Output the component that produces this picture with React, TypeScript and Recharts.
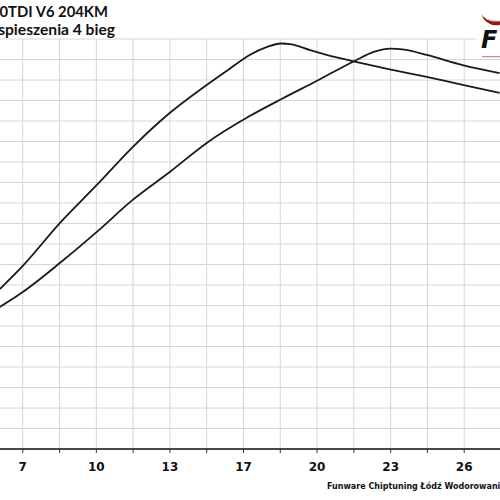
import { LineChart, Line, XAxis, YAxis, CartesianGrid } from 'recharts';

// x ticks (grid lines) and the labels shown under them
const xTicks = [5.4, 7, 8.6, 10.2, 11.8, 13.4, 15, 16.6, 18.2, 19.8, 21.4, 23, 24.6, 26.2, 27.8];
const xTickLabels = ['', '7', '', '10', '', '13', '', '17', '', '20', '', '23', '', '26', ''];
const yTicks = [0, 1, 2, 3, 4, 5, 6, 7, 8, 9, 10, 11, 12, 13, 14, 15, 16, 17, 18, 19, 20];
const yDomain = [0, 20];

// first curve (earlier peak)
const curveAX = [6.0, 7.0, 8.61, 10.22, 11.78, 13.39, 15.0, 16.0, 16.87, 17.6, 18.22, 18.7, 19.5, 20.65, 21.43, 22.96, 24.57, 26.13, 27.74];
const curveAY = [7.8, 8.93, 11.02, 12.88, 14.73, 16.39, 17.76, 18.55, 19.22, 19.6, 19.78, 19.74, 19.46, 19.1, 18.9, 18.52, 18.15, 17.76, 17.37];

// second curve (later peak)
const curveBX = [6.0, 7.0, 8.61, 10.22, 11.78, 13.39, 15.0, 16.87, 18.3, 19.78, 21.43, 22.3, 22.96, 23.6, 24.57, 26.13, 27.74];
const curveBY = [6.93, 7.66, 9.07, 10.59, 12.15, 13.51, 14.93, 16.24, 17.1, 17.95, 18.93, 19.38, 19.53, 19.48, 19.22, 18.73, 18.34];

const seriesA = curveAX.map((x, i) => ({ x, y: curveAY[i] }));
const seriesB = curveBX.map((x, i) => ({ x, y: curveBY[i] }));

const XTick = (props: any) => {
  const { x, y, index } = props;
  const label = xTickLabels[index] ?? '';
  return (
    <text
      x={x}
      y={y + 16}
      textAnchor="middle"
      fontFamily="DejaVu Sans"
      fontWeight="bold"
      fontSize={12}
      fill="#111"
    >
      {label}
    </text>
  );
};

// horizontal grid at every y tick, placed through the y scale
const hGrid = ({ yAxis, offset }: any) => {
  if (yAxis && typeof yAxis.scale === 'function') {
    return yTicks.map((t) => yAxis.scale(t));
  }
  const span = yDomain[1] - yDomain[0];
  return yTicks.map((t) => offset.top + offset.height * (1 - (t - yDomain[0]) / span));
};

const App = () => {
  return (
    <div style={{ position: 'fixed', left: 0, top: 0, width: 500, height: 500, overflow: 'hidden', background: '#fff' }}>
      <div style={{ position: 'absolute', left: -14, top: 0 }}>
        <LineChart
          width={515}
          height={500}
          data={seriesA}
          margin={{ top: 39, right: 0, bottom: 0, left: 0 }}
        >
          <CartesianGrid stroke="#d6d6d6" strokeWidth={1} horizontalCoordinatesGenerator={hGrid} />
          <XAxis
            dataKey="x"
            type="number"
            domain={[5.4, 27.8]}
            ticks={xTicks}
            interval={0}
            height={51}
            axisLine={{ stroke: '#111', strokeWidth: 1.5 }}
            tickLine={{ stroke: '#333' }}
            tickSize={4}
            tick={<XTick />}
            allowDataOverflow
          />
          <YAxis type="number" domain={yDomain} ticks={yTicks} interval={0} hide />
          <Line
            data={seriesA}
            dataKey="y"
            type="monotone"
            stroke="#1a1a1a"
            strokeWidth={1.8}
            dot={false}
            isAnimationActive={false}
          />
          <Line
            data={seriesB}
            dataKey="y"
            type="monotone"
            stroke="#1a1a1a"
            strokeWidth={1.8}
            dot={false}
            isAnimationActive={false}
          />
        </LineChart>
      </div>

      {/* logo */}
      <div style={{ position: 'absolute', left: 476, top: 10, width: 30, height: 46, background: '#fff' }} />
      <svg style={{ position: 'absolute', left: 0, top: 0 }} width={500} height={500}>
        <text x={108} y={17} textAnchor="end" fontFamily="Lato" fontWeight="bold" fontSize={14.8} fill="#111">
          Audi A6 3.0TDI V6 204KM
        </text>
        <text x={115} y={35} textAnchor="end" fontFamily="Lato" fontWeight="bold" fontSize={15.6} fill="#111">
          Wykres przyspieszenia 4 bieg
        </text>
        <path d="M481 14 Q486 22 500 21 L500 25 Q486 27 481 14 Z" fill="#9c1515" />
        <path d="M486 19 Q492 22 500 21" stroke="#c9c9c9" strokeWidth={1} fill="none" />
        <text x={481} y={48} fontFamily="DejaVu Sans" fontWeight="bold" fontStyle="italic" fontSize={24} fill="#111">F</text>
        <rect x={482} y={56} width={18} height={1.2} fill="#d38a8a" />
        <text x={327} y={489} fontFamily="DejaVu Sans" fontWeight="bold" fontSize={8} fill="#111">
          Funware Chiptuning Łódź Wodorowania
        </text>
      </svg>
    </div>
  );
};

export default App;
